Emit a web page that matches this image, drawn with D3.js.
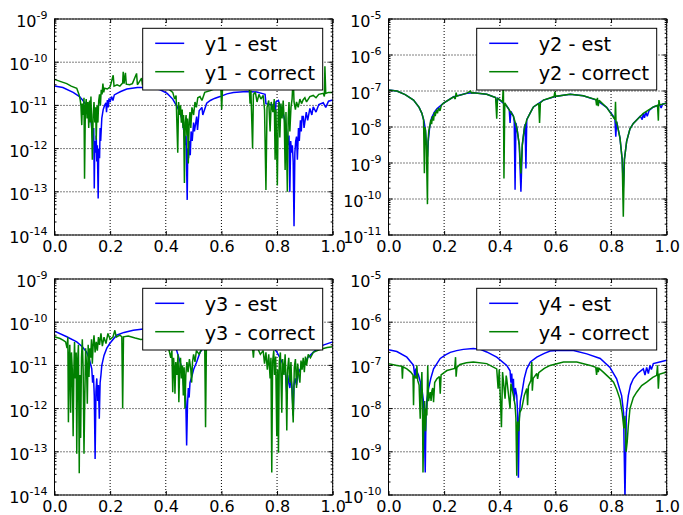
<!DOCTYPE html>
<html>
<head>
<meta charset="utf-8">
<script src="https://cdn.jsdelivr.net/npm/d3@7"></script>
<style>
  html, body { margin: 0; padding: 0; background: #fff; }
  svg { display: block; font-family: "DejaVu Sans", sans-serif; }
</style>
</head>
<body>
<svg id="chart" width="683" height="515"></svg>
<script>
// ---------- DATA ----------
const xTicks = [0.0, 0.2, 0.4, 0.6, 0.8, 1.0];
const seriesNames = ["y1", "y2", "y3", "y4"];
const legendSuffix = [" - est", " - correct"];
const yDecadesMin = [-14, -11, -14, -10];
const yDecadesMax = [-9, -5, -9, -5];

const y1Est = [
 [0.000,2.8e-11],[0.030,2.6e-11],[0.067,2.0e-11],[0.090,1.6e-11],[0.100,1.35e-11],[0.115,1.0e-11],
 [0.125,7e-12],[0.132,4e-12],[0.138,1.5e-12],[0.141,3e-12],[0.143,1.2e-13],[0.145,1.5e-12],
 [0.148,8e-13],[0.150,2e-12],[0.152,5e-13],[0.154,1.2e-12],[0.157,7e-14],[0.159,1e-12],
 [0.162,6e-13],[0.164,3e-12],[0.166,1.5e-12],[0.170,5e-12],[0.175,8e-12],[0.180,1.0e-11],
 [0.185,1.15e-11],[0.187,7e-12],[0.190,1.33e-11],[0.193,9e-12],[0.196,1.45e-11],[0.200,1.2e-11],
 [0.205,1.6e-11],[0.210,1.3e-11],[0.215,1.75e-11],[0.225,1.9e-11],[0.238,2.1e-11],[0.260,2.4e-11],
 [0.298,2.6e-11],[0.330,2.6e-11],[0.358,2.5e-11],[0.380,2.3e-11],[0.405,1.9e-11],[0.425,1.4e-11],
 [0.441,9.3e-12],[0.452,6.5e-12],[0.459,4.6e-12],[0.465,2.5e-12],[0.470,1.2e-12],[0.473,2e-12],
 [0.477,6.5e-14],[0.479,1.0e-12],[0.482,6e-13],[0.485,1.5e-12],[0.488,7e-13],[0.491,2.5e-12],
 [0.495,1.5e-12],[0.500,4e-12],[0.503,2.5e-12],[0.511,5.5e-12],[0.514,2.7e-12],[0.520,7.5e-12],
 [0.530,9e-12],[0.533,6e-12],[0.547,1.12e-11],[0.560,1.3e-11],[0.575,1.45e-11],[0.595,1.6e-11],
 [0.620,1.85e-11],[0.643,2.0e-11],[0.690,2.1e-11],[0.727,2.05e-11],[0.745,1.9e-11],[0.757,1.8e-11],
 [0.760,1.1e-11],[0.775,1.05e-11],[0.790,1.0e-11],[0.793,4.6e-12],[0.796,1.2e-11],[0.805,1.3e-11],
 [0.812,9e-12],[0.820,7.5e-12],[0.826,5e-12],[0.832,3.5e-12],[0.836,2e-12],[0.840,1.2e-12],
 [0.843,2e-12],[0.846,1.0e-13],[0.849,1.5e-12],[0.852,8e-13],[0.855,1.2e-12],[0.858,5e-13],
 [0.861,1.6e-14],[0.864,8e-13],[0.867,1.5e-12],[0.870,1.9e-12],[0.873,5.5e-13],[0.877,3e-12],
 [0.880,1.5e-12],[0.884,4.5e-12],[0.887,2.5e-12],[0.890,5.5e-12],[0.894,5.5e-12],[0.897,3e-12],
 [0.905,7e-12],[0.910,4.5e-12],[0.918,8.5e-12],[0.925,6e-12],[0.930,9.3e-12],[0.940,7e-12],
 [0.950,1.05e-11],[0.966,1.15e-11],[0.975,9e-12],[0.985,1.25e-11],[1.000,1.33e-11]
];
const y1Cor = [
 [0.000,4.0e-11],[0.020,3.6e-11],[0.044,3.2e-11],[0.060,2.8e-11],[0.080,2.5e-11],[0.088,1.8e-11],
 [0.092,1.4e-11],[0.095,1.0e-11],[0.098,3.5e-12],[0.100,1.1e-11],[0.103,6e-12],[0.106,1.5e-11],
 [0.108,2e-13],[0.111,9e-12],[0.114,1.4e-11],[0.117,5e-12],[0.120,1.2e-11],[0.123,3e-12],
 [0.126,1.3e-11],[0.128,4e-12],[0.131,1.6e-11],[0.134,2.5e-12],[0.136,5.5e-13],[0.139,6e-12],
 [0.142,1.2e-11],[0.145,4e-12],[0.148,9e-12],[0.150,1.6e-12],[0.153,1e-11],[0.156,4e-12],
 [0.159,1.3e-11],[0.162,1.8e-11],[0.165,1.0e-11],[0.168,2.3e-11],[0.171,1.8e-11],[0.174,3.2e-11],
 [0.177,2.0e-11],[0.180,2.5e-11],[0.190,2.4e-11],[0.200,2.7e-11],[0.211,5e-11],[0.214,2.8e-11],
 [0.225,3.0e-11],[0.235,2.8e-11],[0.245,3.3e-11],[0.247,6.0e-11],[0.250,3.2e-11],[0.255,5.7e-11],
 [0.258,3.1e-11],[0.270,3.0e-11],[0.280,3.2e-11],[0.295,5.5e-11],[0.298,3.0e-11],[0.313,4.3e-11],
 [0.316,3.0e-11],[0.340,2.9e-11],[0.380,2.7e-11],[0.410,2.4e-11],[0.425,2.0e-11],[0.432,1.4e-11],
 [0.437,1.7e-11],[0.443,8e-13],[0.446,1.2e-11],[0.450,6e-12],[0.453,1.0e-11],[0.456,4e-12],
 [0.459,8e-12],[0.462,3e-12],[0.464,6e-12],[0.467,1.6e-13],[0.470,4e-12],[0.473,6e-12],
 [0.476,2e-12],[0.478,5e-12],[0.481,4.5e-13],[0.484,4e-12],[0.487,7e-12],[0.490,3e-12],
 [0.494,9e-12],[0.500,6e-12],[0.505,1.2e-11],[0.510,9e-12],[0.515,1.5e-11],[0.523,1.6e-11],
 [0.530,1.3e-11],[0.540,2.0e-11],[0.560,2.2e-11],[0.580,2.5e-11],[0.598,2.6e-11],[0.601,8e-12],
 [0.604,2.6e-11],[0.640,2.8e-11],[0.680,2.8e-11],[0.700,2.5e-11],[0.703,1.1e-11],[0.706,2.2e-11],
 [0.712,1.0e-12],[0.715,1.8e-11],[0.722,2.0e-11],[0.728,1.2e-11],[0.735,1.8e-11],[0.742,1.4e-11],
 [0.750,1.7e-11],[0.755,8e-12],[0.760,1.1e-13],[0.764,9e-12],[0.770,1.3e-11],[0.775,2.5e-12],
 [0.779,1.2e-11],[0.785,7e-12],[0.790,1.4e-11],[0.793,5.5e-13],[0.796,8e-12],[0.801,1.4e-13],
 [0.804,6e-12],[0.807,1.2e-11],[0.810,1.8e-12],[0.814,1.1e-11],[0.818,5e-12],[0.822,1.3e-11],
 [0.826,4e-12],[0.829,3.2e-13],[0.832,7e-12],[0.837,1.0e-13],[0.840,5e-12],[0.843,1.2e-11],
 [0.846,2.5e-12],[0.850,9e-12],[0.854,1.4e-11],[0.858,4.7e-11],[0.861,1.2e-11],[0.866,8e-12],
 [0.870,1.2e-11],[0.876,9e-12],[0.882,1.4e-11],[0.888,1.1e-11],[0.894,1.35e-11],[0.900,1.5e-11],
 [0.906,1.2e-11],[0.918,1.6e-11],[0.930,1.7e-11],[0.940,1.5e-11],[0.950,1.8e-11],[0.966,1.9e-11],
 [0.970,1.6e-11],[0.972,8e-11],[0.975,1.9e-11],[0.985,2.0e-11],[1.000,2.0e-11]
];
const y2Est = [
 [0.000,1.07e-7],[0.030,1.0e-7],[0.060,7.9e-8],[0.090,5.6e-8],[0.110,3.5e-8],[0.120,2.4e-8],
 [0.128,1.4e-8],[0.133,7.9e-9],[0.137,2.5e-9],[0.140,1.5e-9],[0.143,4e-9],[0.148,1e-8],
 [0.155,1.8e-8],[0.165,2.6e-8],[0.174,3.2e-8],[0.198,4.6e-8],[0.234,6.9e-8],[0.282,8.7e-8],
 [0.305,8.9e-8],[0.353,8.1e-8],[0.385,6.6e-8],[0.389,4.5e-8],[0.393,6.2e-8],[0.425,3.8e-8],
 [0.434,3.0e-8],[0.437,1.3e-8],[0.440,2.7e-8],[0.449,2.0e-8],[0.452,1.4e-8],[0.455,1.8e-10],
 [0.458,1.3e-8],[0.462,8.9e-9],[0.470,3.2e-9],[0.476,1.6e-10],[0.481,3.2e-9],[0.488,8.9e-9],
 [0.491,1.2e-8],[0.494,7e-10],[0.497,1.6e-8],[0.510,2.5e-8],[0.521,3.6e-8],[0.557,5.6e-8],
 [0.605,7.2e-8],[0.653,8.1e-8],[0.700,7.4e-8],[0.748,5.6e-8],[0.784,3.5e-8],[0.810,1.9e-8],
 [0.814,1.6e-8],[0.817,5.4e-9],[0.820,1.4e-8],[0.832,5e-9],[0.840,1.26e-9],[0.844,2e-10],
 [0.848,1.26e-9],[0.856,4e-9],[0.868,8.9e-9],[0.880,1.26e-8],[0.905,2.0e-8],[0.912,1.6e-8],
 [0.916,2.4e-8],[0.920,1.8e-8],[0.925,2.6e-8],[0.930,2.0e-8],[0.937,2.9e-8],[0.952,3.6e-8],
 [0.975,4.1e-8],[0.980,3.4e-8],[0.985,4.3e-8],[1.000,4.6e-8]
];
const y2Cor = [
 [0.000,1.07e-7],[0.030,1.0e-7],[0.060,7.9e-8],[0.090,5.6e-8],[0.110,3.5e-8],[0.120,2.4e-8],
 [0.126,1.6e-8],[0.129,5.2e-10],[0.131,1e-8],[0.133,7.9e-9],[0.136,3e-9],[0.140,7.2e-11],
 [0.142,4e-9],[0.145,8e-9],[0.148,1e-8],[0.152,1.6e-8],[0.155,1.2e-8],[0.158,2.0e-8],
 [0.162,1.5e-8],[0.165,2.6e-8],[0.168,2.0e-8],[0.172,3.0e-8],[0.176,2.4e-8],[0.180,3.4e-8],
 [0.185,2.8e-8],[0.190,4.0e-8],[0.198,4.6e-8],[0.234,6.9e-8],[0.240,6.0e-8],[0.243,9.0e-8],
 [0.246,7.2e-8],[0.282,8.7e-8],[0.295,1.0e-7],[0.298,8.8e-8],[0.305,8.9e-8],[0.353,8.1e-8],
 [0.385,6.6e-8],[0.389,1.7e-8],[0.392,6.4e-8],[0.410,5.0e-8],[0.413,1.6e-7],[0.415,3.7e-10],
 [0.418,4.7e-8],[0.425,3.8e-8],[0.449,2.0e-8],[0.462,8.9e-9],[0.470,3.2e-9],[0.476,5.1e-10],
 [0.481,3.2e-9],[0.488,8.9e-9],[0.497,1.6e-8],[0.510,2.5e-8],[0.521,3.6e-8],[0.540,4.5e-8],
 [0.543,1.3e-8],[0.546,4.7e-8],[0.557,5.6e-8],[0.595,7.0e-8],[0.598,9.5e-8],[0.601,7.1e-8],
 [0.653,8.1e-8],[0.700,7.4e-8],[0.745,5.8e-8],[0.748,4.0e-8],[0.751,6.5e-8],[0.754,3.8e-8],
 [0.757,5.5e-8],[0.784,3.5e-8],[0.814,1.6e-8],[0.816,5e-8],[0.818,1.26e-8],[0.820,1.4e-8],
 [0.832,5e-9],[0.840,1.26e-9],[0.844,3.2e-11],[0.848,1.26e-9],[0.856,4e-9],[0.868,8.9e-9],
 [0.880,1.26e-8],[0.916,2.4e-8],[0.952,3.6e-8],[0.967,4.0e-8],[0.970,1.5e-8],[0.972,5.6e-8],
 [0.975,4.1e-8],[1.000,4.6e-8]
];
const y3Est = [
 [0.000,6.2e-11],[0.044,4.6e-11],[0.080,3.5e-11],[0.100,2.7e-11],[0.116,2.0e-11],[0.125,1.4e-11],
 [0.134,8.3e-12],[0.137,4e-12],[0.140,6e-12],[0.143,2e-12],[0.146,6.8e-14],[0.149,2.5e-12],
 [0.152,5e-12],[0.155,1.5e-12],[0.158,3.5e-12],[0.161,5.8e-13],[0.164,4e-12],[0.167,6e-12],
 [0.170,1.0e-11],[0.178,1.7e-11],[0.188,2.5e-11],[0.200,3.3e-11],[0.223,5.0e-11],[0.250,5.8e-11],
 [0.283,6.5e-11],[0.319,7.0e-11],[0.360,7.0e-11],[0.400,5.5e-11],[0.430,3.5e-11],[0.455,1.0e-11],
 [0.462,5e-12],[0.466,2.5e-12],[0.469,3e-12],[0.472,1.5e-12],[0.475,1.4e-13],[0.478,1.2e-12],
 [0.481,3e-12],[0.484,1.8e-12],[0.487,4e-12],[0.495,6e-12],[0.500,8e-12],[0.511,1.2e-11],
 [0.523,2.0e-11],[0.560,4e-11],[0.620,6e-11],[0.680,6e-11],[0.740,4.5e-11],[0.780,3e-11],
 [0.800,2.0e-11],[0.815,1.3e-11],[0.823,1.0e-11],[0.830,7e-12],[0.835,2.2e-12],[0.838,6e-12],
 [0.842,4e-12],[0.846,3e-12],[0.850,5e-12],[0.854,3e-12],[0.858,6.9e-13],[0.861,3.5e-12],
 [0.865,5e-12],[0.870,3.5e-12],[0.875,6e-12],[0.882,8e-12],[0.894,1.0e-11],[0.910,1.5e-11],
 [0.930,2.0e-11],[0.950,2.6e-11],[0.966,2.95e-11],[1.000,3.5e-11]
];
const y3Cor = [
 [0.000,4.6e-11],[0.020,4.2e-11],[0.032,3.8e-11],[0.040,3.5e-11],[0.045,2.5e-11],[0.048,4.5e-11],
 [0.050,4.8e-13],[0.053,1.5e-11],[0.055,3e-11],[0.058,8e-13],[0.061,2e-11],[0.064,8e-12],
 [0.067,2.3e-13],[0.070,1e-11],[0.072,3.5e-11],[0.075,5e-12],[0.078,2e-11],[0.080,9e-14],
 [0.083,1.2e-11],[0.086,3e-11],[0.089,3.2e-14],[0.091,6e-12],[0.094,2.1e-13],[0.097,1.5e-11],
 [0.100,4e-11],[0.103,8e-12],[0.106,9e-14],[0.109,2e-12],[0.112,2.5e-11],[0.115,1e-11],
 [0.118,1.3e-12],[0.121,3e-11],[0.124,5.4e-12],[0.127,2.5e-11],[0.130,1.5e-11],[0.133,4e-11],
 [0.136,1.1e-11],[0.139,3e-11],[0.142,5e-11],[0.146,2.0e-11],[0.150,3.5e-11],[0.154,2.2e-11],
 [0.158,4.5e-11],[0.162,3e-11],[0.167,5.5e-11],[0.172,2.8e-11],[0.178,4.5e-11],[0.185,3.2e-11],
 [0.192,5.5e-11],[0.200,4e-11],[0.210,4.5e-11],[0.217,6.5e-11],[0.222,4.5e-11],[0.235,5e-11],
 [0.242,4.6e-11],[0.245,1.0e-12],[0.248,4.6e-11],[0.265,4.8e-11],[0.290,4.3e-11],[0.310,4.0e-11],
 [0.350,4.2e-11],[0.390,3.5e-11],[0.410,2.5e-11],[0.418,1.5e-11],[0.422,2.2e-11],[0.425,2.4e-12],
 [0.428,1.5e-11],[0.431,8e-12],[0.433,2.2e-12],[0.436,1.2e-11],[0.440,6e-12],[0.444,1.8e-11],
 [0.447,1.4e-12],[0.450,8e-12],[0.453,1.5e-11],[0.456,5e-12],[0.460,1e-11],[0.463,2e-12],
 [0.466,9e-12],[0.469,1e-12],[0.472,6e-12],[0.476,1.2e-11],[0.480,7e-12],[0.485,1.4e-11],
 [0.490,8e-12],[0.493,4e-12],[0.496,1.2e-11],[0.500,1.8e-11],[0.505,1.2e-11],[0.510,2.2e-11],
 [0.520,1.8e-11],[0.530,2.5e-11],[0.540,2.8e-11],[0.543,3.7e-13],[0.546,2.8e-11],[0.580,3.2e-11],
 [0.640,3.5e-11],[0.700,3.2e-11],[0.712,2.5e-11],[0.715,1.5e-11],[0.718,2.8e-11],[0.730,2.5e-11],
 [0.740,1.8e-11],[0.750,2.2e-11],[0.755,1.1e-11],[0.760,2e-11],[0.765,8e-12],[0.770,1.8e-11],
 [0.775,5e-12],[0.778,1.5e-11],[0.781,3.3e-14],[0.784,1.2e-11],[0.788,2.2e-11],[0.791,6e-12],
 [0.795,1.6e-11],[0.799,2.3e-13],[0.802,8e-12],[0.805,9.5e-14],[0.808,1.2e-11],[0.812,2e-11],
 [0.817,8e-13],[0.820,1.4e-11],[0.825,6e-12],[0.829,1.8e-11],[0.832,5e-12],[0.835,3.1e-13],
 [0.838,8e-12],[0.842,1.5e-11],[0.846,4e-12],[0.850,1.2e-11],[0.854,2e-12],[0.858,4.8e-13],
 [0.862,9e-12],[0.866,1.4e-11],[0.870,3e-12],[0.874,1.1e-11],[0.878,6e-12],[0.882,4e-12],
 [0.886,1.3e-11],[0.890,8e-12],[0.894,1.5e-11],[0.898,7e-12],[0.902,1.6e-11],[0.906,1.0e-11],
 [0.912,1.8e-11],[0.920,1.5e-11],[0.930,2.0e-11],[0.945,2.2e-11],[0.960,2.4e-11],[0.980,2.6e-11],
 [1.000,2.7e-11]
];
const y4Est = [
 [0.000,2.3e-7],[0.030,2.1e-7],[0.066,1.55e-7],[0.090,1.0e-7],[0.095,5e-8],[0.098,8.5e-8],
 [0.108,5.9e-8],[0.115,4e-8],[0.117,2e-8],[0.120,2.9e-8],[0.125,1.6e-8],[0.128,8e-9],
 [0.132,3.3e-10],[0.135,8e-9],[0.138,1.6e-8],[0.144,2.9e-8],[0.152,5e-8],[0.162,8.3e-8],
 [0.174,1.1e-7],[0.186,1.45e-7],[0.205,1.75e-7],[0.222,2.0e-7],[0.245,2.2e-7],[0.269,2.35e-7],
 [0.305,2.45e-7],[0.330,2.35e-7],[0.353,2.05e-7],[0.389,1.55e-7],[0.425,1.0e-7],[0.437,7.5e-8],
 [0.440,4e-8],[0.443,6.5e-8],[0.446,2.5e-8],[0.449,4.9e-8],[0.452,1.5e-8],[0.456,3e-8],
 [0.461,2.0e-8],[0.464,8e-9],[0.467,2.5e-10],[0.470,6e-9],[0.474,1.5e-8],[0.479,2.2e-8],
 [0.488,5e-8],[0.497,8.3e-8],[0.510,1.2e-7],[0.533,1.55e-7],[0.560,1.9e-7],[0.581,2.15e-7],
 [0.617,2.25e-7],[0.665,2.2e-7],[0.713,1.85e-7],[0.761,1.45e-7],[0.796,9e-8],[0.820,4.9e-8],
 [0.838,2.0e-8],[0.845,8e-9],[0.850,8e-11],[0.855,8e-9],[0.862,2.0e-8],[0.870,3.5e-8],
 [0.880,4.9e-8],[0.895,6.5e-8],[0.916,8.3e-8],[0.922,6e-8],[0.928,9e-8],[0.934,6.5e-8],
 [0.940,1.0e-7],[0.945,8e-8],[0.952,1.1e-7],[0.975,1.2e-7],[1.000,1.32e-7]
];
const y4Cor = [
 [0.000,1.1e-7],[0.030,1.0e-7],[0.048,9.5e-8],[0.050,4.9e-8],[0.052,9.3e-8],[0.066,8.3e-8],
 [0.080,7e-8],[0.088,6e-8],[0.090,1.2e-8],[0.092,5.8e-8],[0.100,5e-8],[0.102,1e-7],
 [0.105,4.5e-8],[0.110,3.5e-8],[0.114,5.8e-9],[0.117,2.5e-8],[0.120,7e-8],[0.122,1.5e-8],
 [0.124,3.3e-10],[0.127,5e-9],[0.130,1.5e-8],[0.133,3e-9],[0.136,1.0e-8],[0.138,6.9e-9],
 [0.141,1e-7],[0.144,1.5e-8],[0.150,2.4e-8],[0.153,1.5e-8],[0.156,2.6e-8],[0.159,3e-8],
 [0.162,1.4e-8],[0.166,4e-8],[0.174,4.9e-8],[0.183,5.5e-8],[0.186,2.2e-8],[0.189,6e-8],
 [0.210,7.6e-8],[0.238,8.5e-8],[0.241,1.55e-7],[0.243,5.5e-8],[0.246,9e-8],[0.257,1.05e-7],
 [0.280,1.15e-7],[0.305,1.2e-7],[0.353,1.1e-7],[0.389,8.3e-8],[0.394,2.9e-8],[0.398,8e-8],
 [0.406,3.7e-9],[0.410,7e-8],[0.419,1.7e-8],[0.423,5.8e-8],[0.425,4.9e-8],[0.437,1.0e-8],
 [0.440,3.8e-8],[0.449,2.0e-8],[0.455,1.2e-8],[0.458,6e-9],[0.461,2.8e-10],[0.464,5e-9],
 [0.468,3e-9],[0.472,8e-9],[0.479,1.0e-8],[0.488,2.0e-8],[0.497,2.9e-8],[0.500,1.2e-8],
 [0.503,3.3e-8],[0.512,4.5e-8],[0.515,1.2e-7],[0.517,2.6e-8],[0.520,5e-8],[0.533,6.5e-8],
 [0.536,4.9e-8],[0.540,6.8e-8],[0.560,8.5e-8],[0.581,1.0e-7],[0.629,1.2e-7],[0.677,1.2e-7],
 [0.725,1.0e-7],[0.745,9e-8],[0.748,6e-8],[0.751,9e-8],[0.754,7e-8],[0.757,8.5e-8],
 [0.773,6.9e-8],[0.796,5e-8],[0.809,4.1e-8],[0.820,2.8e-8],[0.832,1.66e-8],[0.840,8e-9],
 [0.846,3.5e-9],[0.850,6.8e-9],[0.854,1.0e-9],[0.858,1.7e-9],[0.862,4e-9],[0.868,1.0e-8],
 [0.880,1.8e-8],[0.892,2.4e-8],[0.910,3.4e-8],[0.928,4.1e-8],[0.950,5.3e-8],[0.964,5.9e-8],
 [0.967,1.0e-7],[0.970,2.9e-8],[0.973,6.2e-8],[1.000,7.0e-8]
];

// ---------- LAYOUT ----------
const estSeries = [y1Est, y2Est, y3Est, y4Est];
const corSeries = [y1Cor, y2Cor, y3Cor, y4Cor];
const colors = ["#0000ff", "#008000"];
const panelLeft = [54.5, 388.5, 54.5, 388.5];
const panelTop = [19, 19, 279, 279];
const panelW = 278.2, panelH = 216;

const svg = d3.select("#chart");
svg.append("rect").attr("width", 683).attr("height", 515).attr("fill", "#fff");

for (let p = 0; p < 4; p++) {
  const L = panelLeft[p], T = panelTop[p];
  const x = d3.scaleLinear().domain([0, 1]).range([L, L + panelW]);
  const y = d3.scaleLog().domain([Math.pow(10, yDecadesMin[p]), Math.pow(10, yDecadesMax[p])]).range([T + panelH, T]);
  const g = svg.append("g");

  const clipId = "clip" + p;
  svg.append("clipPath").attr("id", clipId).append("rect")
    .attr("x", L).attr("y", T).attr("width", panelW).attr("height", panelH);

  // grid
  const grid = g.append("g").attr("stroke", "#000").attr("stroke-width", 1)
    .attr("stroke-dasharray", "1,2").attr("fill", "none");
  xTicks.forEach(t => {
    grid.append("line").attr("x1", x(t)).attr("x2", x(t)).attr("y1", T).attr("y2", T + panelH);
  });
  const decades = d3.range(yDecadesMin[p], yDecadesMax[p] + 1);
  decades.forEach(d => {
    const yy = y(Math.pow(10, d));
    grid.append("line").attr("x1", L).attr("x2", L + panelW).attr("y1", yy).attr("y2", yy);
  });

  // lines
  const line = d3.line().x(d => x(d[0])).y(d => y(d[1]));
  [estSeries[p], corSeries[p]].forEach((s, i) => {
    g.append("path").datum(s).attr("d", line)
      .attr("clip-path", "url(#" + clipId + ")")
      .attr("fill", "none").attr("stroke", colors[i]).attr("stroke-width", 1.5)
      .attr("stroke-linejoin", "miter").attr("stroke-miterlimit", 2);
  });

  // x axes (ticks inside)
  const xb = g.append("g").attr("transform", `translate(0,${T + panelH})`)
    .call(d3.axisBottom(x).tickValues(xTicks).tickSize(-4).tickPadding(6).tickFormat(d3.format(".1f")));
  const xt = g.append("g").attr("transform", `translate(0,${T})`)
    .call(d3.axisTop(x).tickValues(xTicks).tickSize(-4).tickFormat(""));
  [xb, xt].forEach(a => {
    a.select(".domain").remove();
    a.selectAll("line").attr("stroke", "#000");
    a.selectAll("text").attr("font-size", 16).attr("font-family", "DejaVu Sans").attr("fill", "#000");
  });

  // y ticks (major + minor), both sides, inside
  const tk = g.append("g").attr("stroke", "#000").attr("stroke-width", 1);
  decades.forEach(d => {
    const yy = y(Math.pow(10, d));
    tk.append("line").attr("x1", L).attr("x2", L + 4).attr("y1", yy).attr("y2", yy);
    tk.append("line").attr("x1", L + panelW).attr("x2", L + panelW - 4).attr("y1", yy).attr("y2", yy);
    if (d < yDecadesMax[p]) {
      for (let k = 2; k <= 9; k++) {
        const ym = y(k * Math.pow(10, d));
        tk.append("line").attr("x1", L).attr("x2", L + 2).attr("y1", ym).attr("y2", ym);
        tk.append("line").attr("x1", L + panelW).attr("x2", L + panelW - 2).attr("y1", ym).attr("y2", ym);
      }
    }
    const t = g.append("text").attr("x", L - 7).attr("y", yy + 8)
      .attr("text-anchor", "end").attr("font-size", 16).attr("fill", "#000");
    t.append("tspan").text("10");
    t.append("tspan").attr("dy", -8).attr("font-size", 11).text(String(d));
  });

  // spines
  g.append("rect").attr("x", L).attr("y", T).attr("width", panelW).attr("height", panelH)
    .attr("fill", "none").attr("stroke", "#000").attr("stroke-width", 1);

  // legend
  const lw = 180, lh = 61.7;
  const lx = L + panelW - 10 - lw, ly = T + 9.3;
  const lg = g.append("g");
  lg.append("rect").attr("x", lx).attr("y", ly).attr("width", lw).attr("height", lh)
    .attr("fill", "#fff").attr("stroke", "#000").attr("stroke-width", 1);
  legendSuffix.forEach((suf, i) => {
    const yy = ly + 15 + i * 28.4;
    lg.append("line").attr("x1", lx + 12.5).attr("x2", lx + 41.5).attr("y1", yy).attr("y2", yy)
      .attr("stroke", colors[i]).attr("stroke-width", 1.5);
    lg.append("text").attr("x", lx + 62).attr("y", yy + 8).attr("font-size", 19.3).attr("fill", "#000")
      .text(seriesNames[p] + suf);
  });
}
</script>
</body>
</html>
